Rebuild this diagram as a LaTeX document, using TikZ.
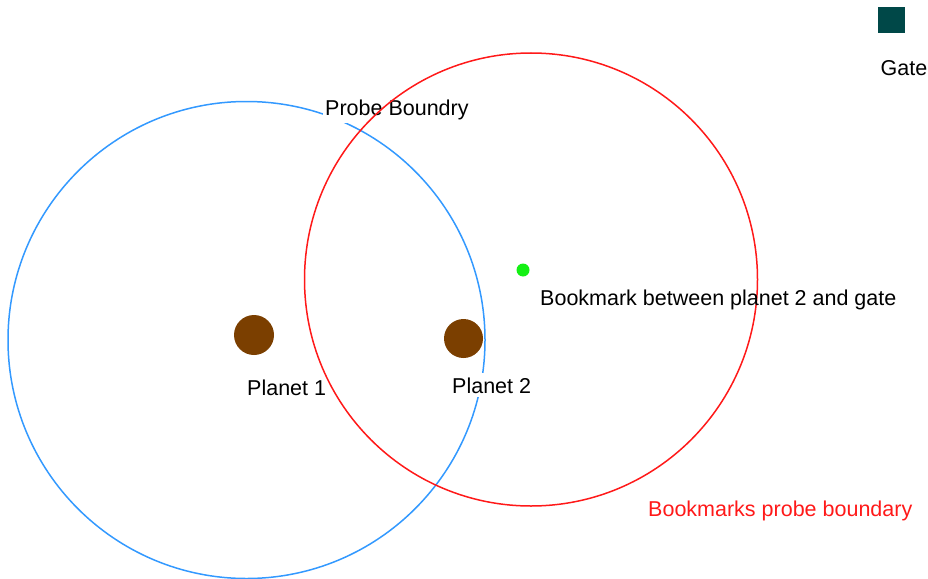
\documentclass[tikz,border=0pt]{standalone}
\usepackage{fontspec}
\setmainfont{Liberation Sans}
\definecolor{probeblue}{RGB}{51,153,255}
\definecolor{bmred}{RGB}{255,25,25}
\definecolor{planetbrown}{RGB}{123,63,0}
\definecolor{bmgreen}{RGB}{20,240,20}
\definecolor{gateteal}{RGB}{0,72,72}
\tikzset{
  ring/.style={circle, draw, line width=1.5pt, minimum size=#1, inner sep=0pt},
  planet/.style={circle, fill=planetbrown, minimum size=40pt, inner sep=0pt},
  lbl/.style={anchor=base west, inner sep=0pt, font=\fontsize{21.5}{25}\selectfont},
  lblbg/.style={anchor=base west, inner xsep=2pt, inner ysep=4pt, fill=white, font=\fontsize{21.5}{25}\selectfont},
}
\begin{document}
\begin{tikzpicture}[x=1pt,y=-1pt]
\useasboundingbox (0,0) rectangle (928,578);
\node[ring=477pt, draw=probeblue] (blue) at (246.5,340) {};
\node[lblbg] (probelbl) at (323,115) {Probe Boundry};
\node[lblbg] (p2lbl) at (450,393) {Planet 2};
\node[ring=453pt, draw=bmred] (red) at (531,279.5) {};
\node[planet] (p1) at (254,335) {};
\node[planet, minimum size=39pt] (p2) at (463.5,338.5) {};
\node[circle, fill=bmgreen, minimum size=13pt, inner sep=0pt] (bm) at (523,270) {};
\node[lbl] (p1lbl) at (247,395) {Planet 1};
\node[lbl] (bmlbl) at (540,305) {Bookmark between planet 2 and gate};
\node[lbl, text=bmred] (redlbl) at (648,516) {Bookmarks probe boundary};
\node[fill=gateteal, minimum width=27pt, minimum height=26pt, inner sep=0pt] (gate) at (891.5,20) {};
\node[lbl] (gatelbl) at (880.5,75) {Gate};
\end{tikzpicture}
\end{document}
